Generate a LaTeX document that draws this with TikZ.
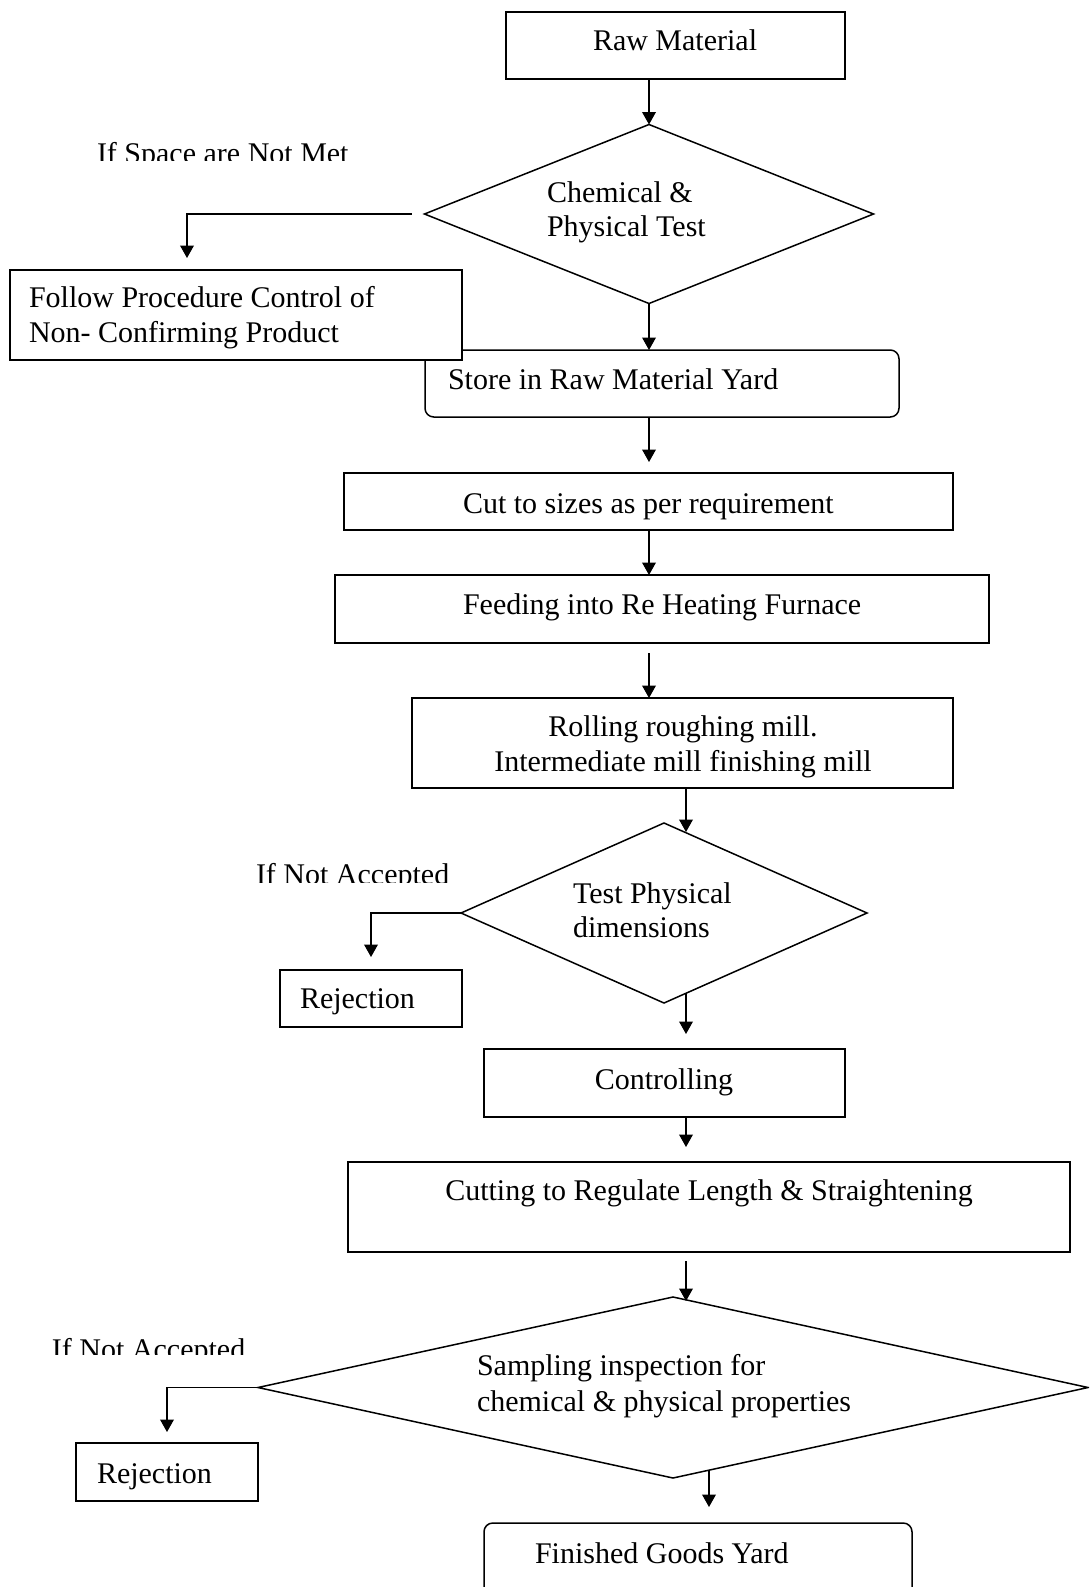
\documentclass[tikz,border=0pt]{standalone}
\usepackage{fontspec}
\setmainfont{Liberation Serif}
\usetikzlibrary{arrows.meta,calc,shapes.geometric}
\begin{document}
\begin{tikzpicture}[x=0.4pt,y=-0.4pt,
  every node/.style={inner sep=0pt,outer sep=0pt},
  txt/.style={font=\fontsize{12}{14}\selectfont,anchor=base west},
  ctxt/.style={font=\fontsize{12}{14}\selectfont,anchor=base},
  box/.style={draw,line width=0.6pt,fill=white},
  rbox/.style={box,rounded corners=3.5pt},
  dec/.style={draw,diamond,line width=0.6pt,fill=white},
  arr/.style={line width=0.5pt,-{Triangle[length=5pt,width=5.5pt]}}]
\clip (0,0) rectangle (1089,1587);
\fill[white] (0,0) rectangle (1089,1587);
\coordinate (cx) at (686,0);
\coordinate (fx) at (709,0);

% Raw material
\node[box,minimum width=135.6pt,minimum height=26.8pt] (raw) at (675.5,45.5) {};
\node[txt] (rawt) at (593,50) {Raw Material};

% Decision 1
\node[dec,minimum width=179.6pt,minimum height=71.6pt] (d1) at (649,214) {};
\node[txt] (d1a) at (547,202) {Chemical \&};
\node[txt] (d1b) at (547,236) {Physical Test};

% Store
\node[rbox,minimum width=189.6pt,minimum height=26.8pt] (store) at (662,383.5) {};
\node[txt] (storet) at (448,389) {Store in Raw Material Yard};

% Follow procedure (drawn over the store box)
\node[box,minimum width=180.8pt,minimum height=36pt] (follow) at (236,315) {};
\node[txt] (fola) at (29,307) {Follow Procedure Control of};
\node[txt] (folb) at (29,342) {Non- Confirming Product};

\begin{scope}
\clip (0,120) rectangle (450,160);
\node[txt] (lab1) at (97,163) {If Space are Not Met};
\end{scope}

% Cut to sizes
\node[box,minimum width=243.6pt,minimum height=22.8pt] (cut) at (648.5,501.5) {};
\node[txt] (cutt) at (463,513) {Cut to sizes as per requirement};

% Feeding
\node[box,minimum width=261.6pt,minimum height=27.2pt] (feed) at (662,609) {};
\node[txt] (feedt) at (463,614) {Feeding into Re Heating Furnace};

% Rolling
\node[box,minimum width=216.4pt,minimum height=36pt] (roll) at (682.5,743) {};
\node[ctxt] (rolla) at (683,736) {Rolling roughing mill.};
\node[ctxt] (rollb) at (683,771) {Intermediate mill finishing mill};

% Decision 2
\node[dec,minimum width=162.4pt,minimum height=72pt] (d2) at (664,913) {};
\node[txt] (d2a) at (573,903) {Test Physical};
\node[txt] (d2b) at (573,937) {dimensions};

\begin{scope}
\clip (200,840) rectangle (460,882);
\node[txt] (lab2) at (256,884) {If Not Accepted};
\end{scope}

% Rejection 1
\node[box,minimum width=72.8pt,minimum height=22.8pt] (rej1) at (371,998.5) {};
\node[txt] (rej1t) at (300,1008) {Rejection};

% Controlling
\node[box,minimum width=144.4pt,minimum height=27.2pt] (ctrl) at (664.5,1083) {};
\node[ctxt] (ctrlt) at (664,1089) {Controlling};

% Cutting
\node[box,minimum width=288.8pt,minimum height=36pt] (cutting) at (709,1207) {};
\node[ctxt] (cuttingt) at (709,1200) {Cutting to Regulate Length \& Straightening};

% Decision 3
\node[dec,minimum width=332pt,minimum height=72.4pt] (d3) at (673,1387.5) {};
\node[txt] (d3a) at (477,1375) {Sampling inspection for};
\node[txt] (d3b) at (477,1411) {chemical \& physical properties};

\begin{scope}
\clip (0,1320) rectangle (250,1354);
\node[txt] (lab3) at (52,1359) {If Not Accepted};
\end{scope}

% Rejection 2
\node[box,minimum width=72.8pt,minimum height=23.2pt] (rej3) at (167,1472) {};
\node[txt] (rej3t) at (97,1483) {Rejection};

% Finished goods
\node[rbox,minimum width=171.2pt,minimum height=32pt] (fin) at (698,1563) {};
\node[txt] (fint) at (535,1563) {Finished Goods Yard};

% Connectors
\draw[arr] (raw.south -| d1.north) -- (d1.north);
\draw[arr] (d1.south) -- (d1.south |- store.north);
\draw[arr] ($(d1.west)+(-13,0)$) -| ($(follow.north)+(-49,-12)$);
\draw[arr] (store.south -| d1.south) -- ($(cut.north -| d1.south)+(0,-11)$);
\draw[arr] (cut.south -| d1.south) -- (feed.north -| d1.south);
\draw[arr] ($(feed.south -| d1.south)+(0,10)$) -- (roll.north -| d1.south);
\draw[arr] (roll.south -| cx) -- ($(d2.north -| cx)+(0,9)$);
\draw[arr] (d2.west) -| ($(rej1.north)+(0,-13)$);
\draw[arr] ($(d2.south -| cx)+(0,-10)$) -- ($(ctrl.north -| cx)+(0,-15)$);
\draw[arr] (ctrl.south -| cx) -- ($(cutting.north -| cx)+(0,-15)$);
\draw[arr] ($(cutting.south -| cx)+(0,9)$) -- ($(d3.north -| cx)+(0,4)$);
\draw[arr] (d3.west) -| ($(rej3.north)+(0,-11)$);
\draw[arr] ($(d3.south -| fx)+(0,-7)$) -- ($(fin.north -| fx)+(0,-16)$);
\end{tikzpicture}
\end{document}
